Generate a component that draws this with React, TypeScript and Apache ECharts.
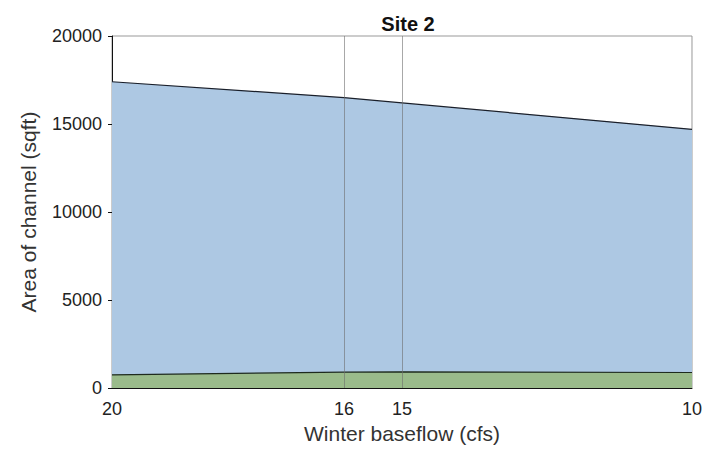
import React, { useEffect, useRef } from "react";
import * as echarts from "echarts";

const flows = [20, 16, 15, 10];
const totalArea = [17400, 16500, 16200, 14700];
const greenArea = [750, 900, 920, 880];
const markFlows = [16, 15];
const yTicks = [0, 5000, 10000, 15000, 20000];

export default function App() {
  const ref = useRef<HTMLDivElement>(null);
  useEffect(() => {
    if (!ref.current) return;
    const chart = echarts.init(ref.current, null, { renderer: "svg" });
    const font = "Liberation Sans, Arial, sans-serif";
    chart.setOption({
      animation: false,
      title: {
        text: "Site 2",
        left: 403,
        textAlign: "center",
        top: 9,
        textStyle: { fontFamily: font, fontSize: 20, fontWeight: "bold", color: "#111" },
      },
      grid: { left: 112, right: 11, top: 36, bottom: 68, show: true, borderColor: "#999", borderWidth: 1, backgroundColor: "transparent" },
      xAxis: {
        type: "value",
        inverse: true,
        min: 10,
        max: 20,
        name: "Winter baseflow (cfs)",
        nameLocation: "middle",
        nameGap: 30,
        nameTextStyle: { fontFamily: font, fontSize: 21, color: "#333" },
        axisLine: { show: true, lineStyle: { color: "#111", width: 1 } },
        axisTick: { show: false },
        splitLine: { show: false },
        axisLabel: {
          customValues: flows,
          fontFamily: font,
          fontSize: 18,
          color: "#222",
          margin: 12,
          formatter: (v: number) => String(v),
        },
      },
      yAxis: {
        type: "value",
        min: 0,
        max: 20000,
        interval: 5000,
        name: "Area of channel (sqft)",
        nameLocation: "middle",
        nameGap: 73,
        nameTextStyle: { fontFamily: font, fontSize: 21, color: "#333" },
        axisLine: { show: true, lineStyle: { color: "#111", width: 1 } },
        axisTick: { show: true, length: 4, lineStyle: { color: "#111" } },
        splitLine: { show: false },
        axisLabel: {
          customValues: yTicks,
          fontFamily: font,
          fontSize: 18,
          color: "#222",
          margin: 10,
          formatter: (v: number) => String(v),
        },
      },
      series: [
        {
          type: "line",
          data: flows.map((f, i) => [f, totalArea[i]]),
          symbol: "none",
          lineStyle: { color: "#1a1f2a", width: 1.2 },
          areaStyle: { color: "#adc8e3", opacity: 1 },
          z: 2,
          markLine: {
            silent: true,
            symbol: "none",
            label: { show: false },
            lineStyle: { color: "rgba(110,110,110,0.6)", width: 1, type: "solid" },
            data: markFlows.map((f) => ({ xAxis: f })),
          },
        },
        {
          type: "line",
          data: flows.map((f, i) => [f, greenArea[i]]),
          symbol: "none",
          lineStyle: { color: "#1e2a1e", width: 1.2 },
          areaStyle: { color: "#9abb8b", opacity: 1 },
          z: 3,
        },
      ],
    });
    return () => chart.dispose();
  }, []);
  return <div ref={ref} style={{ width: 705, height: 456, position: "absolute", left: 0, top: 0 }} />;
}
